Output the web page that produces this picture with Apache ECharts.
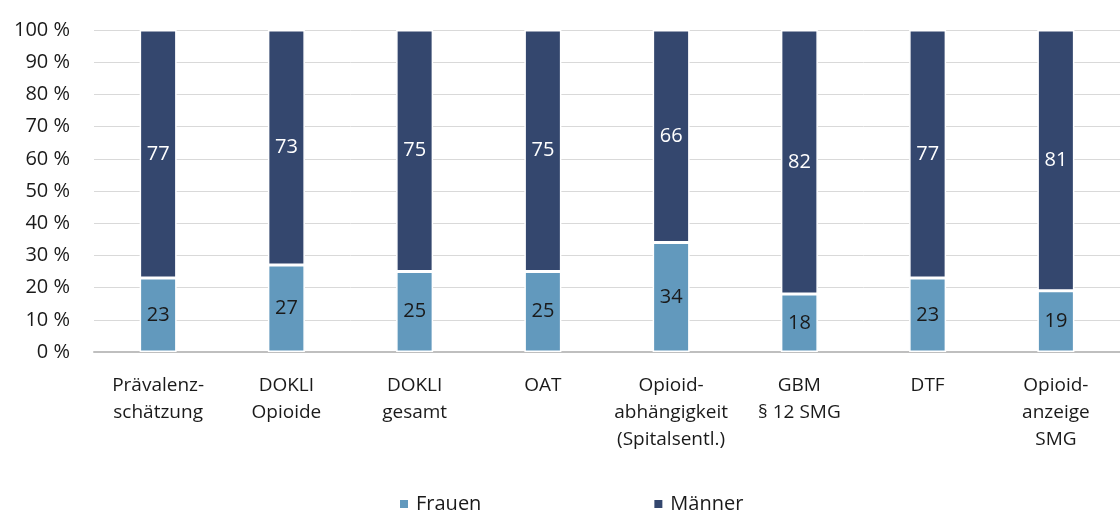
<!DOCTYPE html>
<html><head><meta charset="utf-8">
<script src="https://cdn.jsdelivr.net/npm/echarts@6/dist/echarts.min.js"></script>
<style>html,body{margin:0;padding:0;background:#fff}#c{width:1120px;height:514px}</style>
</head><body><div id="c"></div>
<script>
const categories = ["Prävalenz-\nschätzung","DOKLI\nOpioide","DOKLI\ngesamt","OAT","Opioid-\nabhängigkeit\n(Spitalsentl.)","GBM\n§ 12 SMG","DTF","Opioid-\nanzeige\nSMG"];
const frauen = [23,27,25,25,34,18,23,19];
const maenner = [77,73,75,75,66,82,77,81];
const seriesNames = ["Frauen","Männer"];
const colors = ["#6299BD","#34476E"];
const font = "'Open Sans', 'Noto Sans', sans-serif";
const chart = echarts.init(document.getElementById('c'));
chart.setOption({
  animation:false,
  textStyle:{fontFamily:font},
  grid:{left:94,right:0,top:30,bottom:162},
  legend:{left:393,top:489,itemWidth:10,itemHeight:10,itemGap:171,icon:'rect',
    textStyle:{fontFamily:font,fontSize:20,color:'#1a1a1a',padding:[0,0,0,2]},
    data:seriesNames},
  xAxis:{type:'category',data:categories,
    axisLine:{lineStyle:{color:'#bfbfbf',width:2}},axisTick:{show:false},
    axisLabel:{interval:0,margin:20,fontFamily:font,fontSize:19,color:'#1a1a1a',lineHeight:27}},
  yAxis:{type:'value',min:0,max:100,interval:10,
    axisLabel:{formatter:'{value} %',fontFamily:font,fontSize:20,color:'#1a1a1a',margin:24},
    splitLine:{lineStyle:{color:'#d9d9d9',width:1}},axisLine:{show:false},axisTick:{show:false}},
  series:[
    {name:seriesNames[0],type:'bar',stack:'a',data:frauen,barWidth:37,
     itemStyle:{color:colors[0],borderColor:'#fff',borderWidth:1.5},
     label:{show:true,position:'inside',fontFamily:font,fontSize:20,color:'#1a1a1a'}},
    {name:seriesNames[1],type:'bar',stack:'a',data:maenner,barWidth:37,
     itemStyle:{color:colors[1],borderColor:'#fff',borderWidth:1.5},
     label:{show:true,position:'inside',fontFamily:font,fontSize:20,color:'#ffffff'}}
  ]
});
</script></body></html>
